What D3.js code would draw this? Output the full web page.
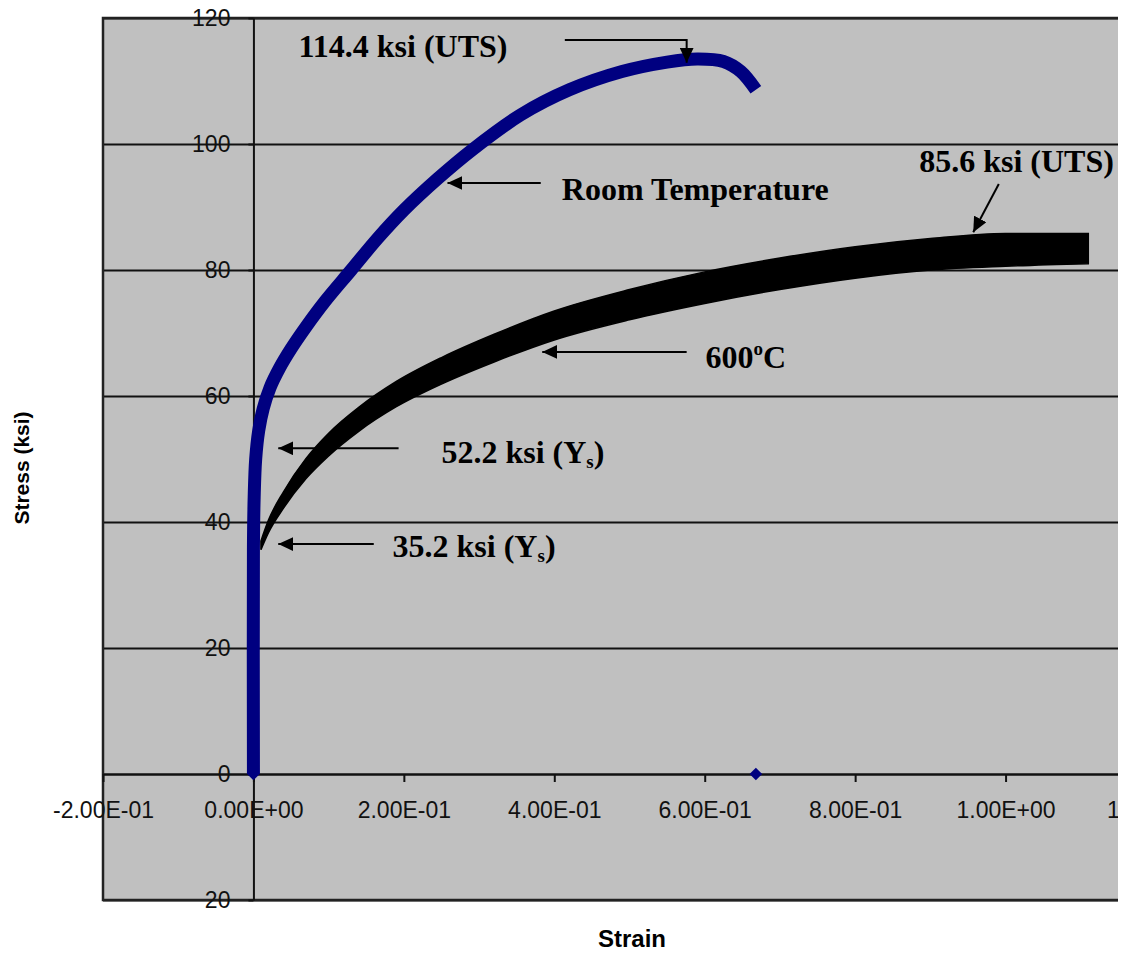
<!doctype html>
<html>
  <head>
    <meta charset="utf-8">
    <script src="https://d3js.org/d3.v7.min.js"></script>
    <style>
      body { margin: 0; background: #fff; }
      .grid line { stroke: #111; stroke-width: 2; }
      .grid path { stroke-width: 0; }
    </style>
  </head>
  <body>
    <script>
    // ticks
    var xTicks = [-0.2, 0, 0.2, 0.4, 0.6, 0.8, 1.0, 1.2];
    var xTickLabels = ['-2.00E-01', '0.00E+00', '2.00E-01', '4.00E-01', '6.00E-01', '8.00E-01', '1.00E+00', '1.20E+00'];
    var yTicks = [-20, 0, 20, 40, 60, 80, 100, 120];
    var yTickLabels = ['20', '0', '20', '40', '60', '80', '100', '120'];

    // room temperature curve (strain, ksi)
    var roomStrain = [0, 0, 0.001, 0.003, 0.007, 0.013, 0.022, 0.035, 0.05, 0.07, 0.095, 0.13, 0.165, 0.20, 0.245, 0.29, 0.355, 0.42, 0.49, 0.55, 0.59, 0.625, 0.648, 0.668];
    var roomStress = [0, 36, 44, 50, 54.5, 58, 61.3, 64.5, 67.5, 71, 75, 80, 85, 89.5, 94.5, 99, 104.6, 108.6, 111.5, 113, 113.5, 113.1, 111.5, 108.6];
    // lone markers of the room temperature series
    var roomMarkStrain = [0, 0.668];
    var roomMarkStress = [0, 0];

    // 600C curve, noisy so kept as top and bottom of the band
    var hotStrain = [0.010, 0.02, 0.04, 0.07, 0.10, 0.14, 0.19, 0.25, 0.32, 0.40, 0.50, 0.60, 0.70, 0.80, 0.90, 1.00, 1.11];
    var hotUpper  = [37.0, 40.3, 44.8, 50.1, 54.1, 58.2, 62.3, 66.1, 69.8, 73.5, 76.9, 79.7, 81.9, 83.7, 85.0, 85.8, 85.8];
    var hotLower  = [35.6, 38.3, 42.2, 46.9, 50.5, 54.4, 58.3, 61.9, 65.4, 68.9, 72.1, 74.7, 76.9, 78.7, 80.0, 80.6, 81.0];

    // annotations: text and arrow points in data units
    var noteLabels = [
      [['114.4 ksi (UTS)', '']],
      [['Room Temperature', '']],
      [['85.6 ksi (UTS)', '']],
      [['600', ''], ['o', 'sup'], ['C', '']],
      [['52.2 ksi (Y', ''], ['s', 'sub'], [')', '']],
      [['35.2 ksi (Y', ''], ['s', 'sub'], [')', '']]
    ];
    var noteAt = [[0.060, 113.8], [0.410, 91.1], [1.144, 95.6], [0.601, 64.4], [0.250, 49.4], [0.185, 34.4]];
    var noteAnchor = ['start', 'start', 'end', 'start', 'start', 'start'];
    var noteArrows = [
      [[0.414, 116.5], [0.576, 116.5], [0.576, 112.9]],
      [[0.382, 93.8], [0.258, 93.8]],
      [[0.991, 93.65], [0.957, 86.0]],
      [[0.576, 67.0], [0.384, 67.0]],
      [[0.193, 51.7], [0.033, 51.7]],
      [[0.160, 36.5], [0.033, 36.5]]
    ];

    var width = 1131;
    var height = 956;

    var svg = d3.select('body')
              .append('svg')
              .attr('width', 1118)
              .attr('height', height)
              .style('overflow', 'hidden');

    var x = d3.scaleLinear()
              .domain([-0.2, 1.2])
              .range([103, 1156]);

    var y = d3.scaleLinear()
              .domain([-20, 120])
              .range([900, 18]);

    // plot area
    svg.append('rect')
      .attr('x', x(-0.2))
      .attr('y', y(120))
      .attr('width', x(1.2) - x(-0.2))
      .attr('height', y(-20) - y(120))
      .attr('fill', '#c0c0c0');

    // horizontal gridlines
    svg.append('g')
      .attr('class', 'grid')
      .attr('transform', 'translate(' + x(-0.2) + ',0)')
      .call(d3.axisLeft(y)
        .tickValues(yTicks)
        .tickSize(-(x(1.2) - x(-0.2)))
        .tickFormat(''));

    // plot area border (right side is cut off in the original)
    svg.append('path')
      .attr('d', 'M' + x(1.2) + ',' + y(120) + 'H' + x(-0.2) + 'V' + y(-20) + 'H' + x(1.2))
      .attr('fill', 'none')
      .attr('stroke', '#222')
      .attr('stroke-width', 2.5);

    // x axis crossing at stress 0
    var xAxis = svg.append('g')
      .attr('transform', 'translate(0,' + y(0) + ')')
      .call(d3.axisBottom(x)
        .tickValues(xTicks)
        .tickSizeInner(8)
        .tickSizeOuter(0)
        .tickPadding(20)
        .tickFormat(function(d, i) { return xTickLabels[i]; }));

    // y axis crossing at strain 0
    var yAxis = svg.append('g')
      .attr('transform', 'translate(' + x(0) + ',0)')
      .call(d3.axisLeft(y)
        .tickValues(yTicks)
        .tickSizeInner(5)
        .tickSizeOuter(0)
        .tickPadding(18)
        .tickFormat(function(d, i) { return yTickLabels[i]; }));

    [xAxis, yAxis].forEach(function(a) {
      a.attr('font-family', 'Liberation Sans, Arial, sans-serif')
       .attr('font-size', 23);
      a.selectAll('path, line').attr('stroke', '#111').attr('stroke-width', 2);
      a.selectAll('text').attr('fill', '#111');
    });

    // 600C band
    var hotData = hotStrain.map(function(s, i) {
      return {s: s, hi: hotUpper[i], lo: hotLower[i]};
    });

    var band = d3.area()
      .x(function(d) { return x(d.s); })
      .y0(function(d) { return y(d.lo); })
      .y1(function(d) { return y(d.hi); })
      .curve(d3.curveMonotoneX);

    svg.append('path')
      .datum(hotData)
      .attr('d', band)
      .attr('fill', '#000')
      .attr('stroke', '#000')
      .attr('stroke-width', 1.5);

    // room temperature curve
    var roomData = roomStrain.map(function(s, i) {
      return {s: s, v: roomStress[i]};
    });

    var line = d3.line()
      .x(function(d) { return x(d.s); })
      .y(function(d) { return y(d.v); })
      .curve(d3.curveCatmullRom.alpha(0.5));

    svg.append('path')
      .datum(roomData)
      .attr('d', line)
      .attr('fill', 'none')
      .attr('stroke', '#000080')
      .attr('stroke-width', 13)
      .attr('stroke-linejoin', 'round');

    svg.selectAll('.mark')
      .data(roomMarkStrain)
      .enter()
      .append('path')
      .attr('class', 'mark')
      .attr('d', d3.symbol(d3.symbolSquare).size(80))
      .attr('transform', function(d, i) {
        return 'translate(' + x(d) + ',' + y(roomMarkStress[i]) + ') rotate(45)';
      })
      .attr('fill', '#000080');

    // arrows
    svg.append('defs')
      .append('marker')
      .attr('id', 'head')
      .attr('markerUnits', 'userSpaceOnUse')
      .attr('markerWidth', 16)
      .attr('markerHeight', 14)
      .attr('refX', 15)
      .attr('refY', 7)
      .attr('orient', 'auto')
      .append('path')
      .attr('d', 'M0,0L15,7L0,14Z')
      .attr('fill', '#000');

    var arrowLine = d3.line()
      .x(function(d) { return x(d[0]); })
      .y(function(d) { return y(d[1]); });

    svg.selectAll('.arrow')
      .data(noteArrows)
      .enter()
      .append('path')
      .attr('class', 'arrow')
      .attr('d', arrowLine)
      .attr('fill', 'none')
      .attr('stroke', '#000')
      .attr('stroke-width', 2)
      .attr('marker-end', 'url(#head)');

    // annotation text
    var notes = svg.selectAll('.note')
      .data(noteLabels)
      .enter()
      .append('text')
      .attr('class', 'note')
      .attr('x', function(d, i) { return x(noteAt[i][0]); })
      .attr('y', function(d, i) { return y(noteAt[i][1]); })
      .attr('text-anchor', function(d, i) { return noteAnchor[i]; })
      .attr('font-family', 'Liberation Serif, Times New Roman, serif')
      .attr('font-weight', 'bold')
      .attr('font-size', 32)
      .attr('fill', '#000');

    notes.each(function(parts) {
      var t = d3.select(this);
      var shift = 0;
      parts.forEach(function(p) {
        var ts = t.append('tspan').text(p[0]);
        var want = p[1] === 'sup' ? -13 : p[1] === 'sub' ? 5 : 0;
        ts.attr('dy', want - shift);
        if (p[1]) ts.attr('font-size', 19);
        shift = want;
      });
    });

    // axis titles
    svg.append('text')
      .attr('x', 632)
      .attr('y', 947)
      .attr('text-anchor', 'middle')
      .attr('font-family', 'Liberation Sans, Arial, sans-serif')
      .attr('font-weight', 'bold')
      .attr('font-size', 24)
      .text('Strain');

    svg.append('text')
      .attr('transform', 'translate(29,468) rotate(-90)')
      .attr('text-anchor', 'middle')
      .attr('font-family', 'Liberation Sans, Arial, sans-serif')
      .attr('font-weight', 'bold')
      .attr('font-size', 21)
      .text('Stress (ksi)');

    </script>
  </body>
</html>
